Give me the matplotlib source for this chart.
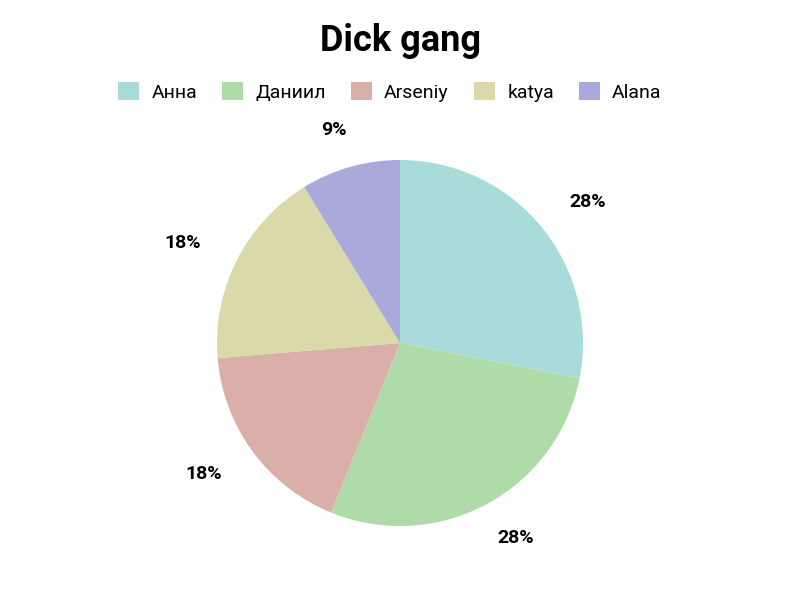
import matplotlib.pyplot as plt
from matplotlib.patches import Patch

plt.rcParams['font.family'] = ['Roboto', 'DejaVu Sans']

names = ['Анна', 'Даниил', 'Arseniy', 'katya', 'Alana']
values = [32, 32, 20, 20, 10]
colors = ['#a9dbdb', '#afdba9', '#dbafa9', '#d9d9a9', '#a9a9db']

fig = plt.figure(figsize=(8, 6), dpi=100)

# pie centred at (400, 343) px, radius ~183 px
R = 183
lim = 1.4
size = R * lim * 2
ax = fig.add_axes([(400 - size / 2) / 800, (600 - 343 - size / 2) / 600, size / 800, size / 600])
wedges, texts, autotexts = ax.pie(values, colors=colors, startangle=90, counterclock=False,
                                  autopct='%.0f%%', pctdistance=1.0,
                                  textprops={'fontsize': 14, 'fontweight': 'bold', 'color': '#000000'},
                                  wedgeprops={'linewidth': 0})
# labels sit on a slightly wider-than-tall ring outside the pie
for t in autotexts:
    x, y = t.get_position()
    t.set_position((x * 1.33, y * 1.21))
ax.set_xlim(-lim, lim)
ax.set_ylim(-lim, lim)
ax.set_aspect('equal')
ax.axis('off')

fig.text(0.5, 1 - 41 / 600, 'Dick gang', ha='center', va='center',
         fontsize=26, fontweight='bold')

handles = [Patch(facecolor=c, edgecolor='none') for c in colors]
fig.legend(handles, names, loc='center', bbox_to_anchor=(0.4875, 1 - 92 / 600),
           ncol=5, frameon=False, fontsize=14,
           handlelength=1.05, handleheight=1.05, handletextpad=0.65,
           columnspacing=1.3)

fig.savefig('out.png', dpi=100)
